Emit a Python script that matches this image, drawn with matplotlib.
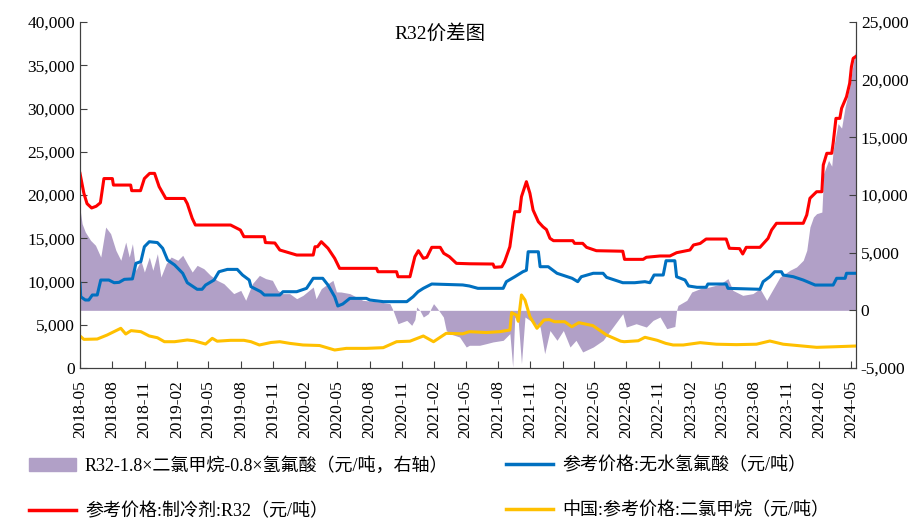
import matplotlib
matplotlib.use('Agg')
import matplotlib.pyplot as plt
import matplotlib.dates as mdates
from matplotlib.ticker import FuncFormatter, MultipleLocator
from matplotlib.patches import Patch
from matplotlib.lines import Line2D
import pandas as pd

# R32 reference price (yuan/t, left axis)
r32_dates = ['2018-05-01', '2018-05-12', '2018-05-21', '2018-06-03', '2018-06-16', '2018-06-28', '2018-07-08',
             '2018-08-01', '2018-08-04', '2018-09-22', '2018-09-25', '2018-10-20', '2018-10-31', '2018-11-15',
             '2018-11-29', '2018-12-12', '2018-12-31', '2019-02-22', '2019-03-02', '2019-03-16', '2019-03-25',
             '2019-07-03', '2019-07-31', '2019-08-10', '2019-10-07', '2019-10-10', '2019-11-06', '2019-11-20',
             '2020-01-07', '2020-02-23', '2020-02-28', '2020-03-06', '2020-03-17', '2020-04-05', '2020-04-24',
             '2020-05-08', '2020-08-21', '2020-08-25', '2020-10-17', '2020-10-21', '2020-11-24', '2020-12-08',
             '2020-12-18', '2021-01-01', '2021-01-11', '2021-01-25', '2021-02-18', '2021-02-28', '2021-03-16',
             '2021-04-05', '2021-05-12', '2021-07-18', '2021-07-22', '2021-08-12', '2021-08-20', '2021-09-04',
             '2021-09-13', '2021-09-18', '2021-10-02', '2021-10-07', '2021-10-21', '2021-10-31', '2021-11-09',
             '2021-11-24', '2021-12-07', '2021-12-17', '2021-12-27', '2022-01-06', '2022-03-02', '2022-03-07',
             '2022-03-30', '2022-04-10', '2022-05-08', '2022-07-22', '2022-07-27', '2022-09-18', '2022-09-27',
             '2022-11-05', '2022-12-03', '2022-12-22', '2023-01-29', '2023-02-08', '2023-02-27', '2023-03-16',
             '2023-05-12', '2023-05-21', '2023-06-19', '2023-06-28', '2023-07-08', '2023-08-16', '2023-09-08',
             '2023-09-18', '2023-10-02', '2023-12-17', '2023-12-27', '2024-01-05', '2024-01-24', '2024-02-08',
             '2024-02-12', '2024-02-22', '2024-03-07', '2024-03-11', '2024-03-19', '2024-03-30', '2024-04-04',
             '2024-04-18', '2024-04-27', '2024-05-02', '2024-05-07', '2024-05-14']
r32 = [22500, 20200, 19000, 18500, 18700, 19100, 21900,
       21900, 21150, 21150, 20500, 20500, 21900, 22500,
       22500, 20960, 19600, 19600, 19000, 17300, 16530,
       16530, 15950, 15180, 15180, 14500, 14450, 13640,
       13060, 13060, 14020, 14020, 14600, 13840, 12680,
       11520, 11520, 11130, 11130, 10550, 10550, 12870,
       13560, 12680, 12800, 13950, 13950, 13260, 12870,
       12100, 12050, 12020, 11640, 11700, 12290, 14020,
       16730, 18070, 18070, 19800, 21540, 20200, 18260,
       16910, 16330, 16000, 14990, 14720, 14720, 14410,
       14410, 13950, 13560, 13500, 12560, 12560, 12800,
       12950, 12950, 13330, 13640, 14220, 14400, 14910,
       14910, 13840, 13800, 13180, 13950, 13950, 14990,
       15950, 16730, 16730, 17690, 19620, 20380, 20380,
       23470, 24820, 24820, 25970, 28860, 28860, 30020,
       31360, 32910, 34830, 35800, 36000]

# anhydrous HF reference price (left axis)
hf_dates = ['2018-05-01', '2018-05-03', '2018-05-16', '2018-05-26', '2018-06-05', '2018-06-19', '2018-06-29',
            '2018-07-22', '2018-08-06', '2018-08-20', '2018-09-04', '2018-09-27', '2018-10-07', '2018-10-21',
            '2018-10-31', '2018-11-14', '2018-12-07', '2018-12-22', '2019-01-05', '2019-01-25', '2019-02-17',
            '2019-03-02', '2019-03-30', '2019-04-13', '2019-04-23', '2019-05-17', '2019-05-31', '2019-06-24',
            '2019-07-22', '2019-08-06', '2019-08-25', '2019-08-30', '2019-09-27', '2019-10-07', '2019-11-20',
            '2019-11-29', '2020-01-07', '2020-02-04', '2020-02-23', '2020-03-21', '2020-04-05', '2020-04-24',
            '2020-05-03', '2020-05-17', '2020-06-06', '2020-07-23', '2020-08-02', '2020-09-09', '2020-11-15',
            '2020-12-03', '2020-12-17', '2021-01-01', '2021-01-25', '2021-04-23', '2021-05-12', '2021-06-05',
            '2021-08-16', '2021-08-25', '2021-09-18', '2021-10-11', '2021-10-21', '2021-10-26', '2021-11-24',
            '2021-11-29', '2021-12-22', '2022-01-16', '2022-02-28', '2022-03-16', '2022-03-26', '2022-04-29',
            '2022-05-27', '2022-06-06', '2022-07-22', '2022-08-25', '2022-09-23', '2022-10-07', '2022-10-19',
            '2022-11-14', '2022-11-22', '2022-12-17', '2022-12-22', '2023-01-15', '2023-01-25', '2023-02-18',
            '2023-03-16', '2023-03-21', '2023-05-12', '2023-05-17', '2023-08-16', '2023-08-25', '2023-09-13',
            '2023-09-27', '2023-10-16', '2023-10-21', '2023-11-19', '2023-12-17', '2024-01-20', '2024-03-11',
            '2024-03-21', '2024-04-14', '2024-04-18', '2024-05-14']
hf = [9790, 8240, 7860, 7860, 8440, 8440, 10170,
      10170, 9860, 9900, 10250, 10300, 12100, 12300,
      14020, 14600, 14500, 13840, 12480, 11910, 10950,
      9860, 9100, 9100, 9590, 10170, 11130, 11400,
      11400, 10750, 10170, 9400, 8820, 8440, 8440,
      8820, 8820, 9210, 10370, 10370, 9590, 8240,
      7170, 7400, 8050, 8050, 7860, 7670, 7670,
      8240, 8820, 9210, 9710, 9600, 9480, 9210,
      9210, 9980, 10550, 11130, 11300, 13440, 13440,
      11710, 11710, 10950, 10370, 9980, 10550, 10950,
      10950, 10480, 9860, 9860, 9980, 9860, 10750,
      10750, 12400, 12400, 10550, 10170, 9480, 9330,
      9330, 9710, 9710, 9210, 9100, 9980, 10550,
      11130, 11130, 10750, 10550, 10170, 9590, 9590,
      10370, 10370, 10950, 10950]

# China dichloromethane reference price (left axis)
dcm_dates = ['2018-05-01', '2018-05-12', '2018-06-19', '2018-07-17', '2018-08-25', '2018-09-08', '2018-09-23',
             '2018-10-21', '2018-11-14', '2018-12-07', '2018-12-27', '2019-01-25', '2019-03-02', '2019-03-21',
             '2019-04-23', '2019-05-12', '2019-05-26', '2019-07-03', '2019-08-10', '2019-08-30', '2019-09-23',
             '2019-10-26', '2019-11-20', '2019-12-18', '2020-01-25', '2020-03-12', '2020-04-24', '2020-05-27',
             '2020-07-23', '2020-09-09', '2020-10-17', '2020-11-24', '2021-01-01', '2021-01-30', '2021-03-07',
             '2021-04-23', '2021-05-12', '2021-06-29', '2021-08-06', '2021-09-04', '2021-09-09', '2021-09-23',
             '2021-09-28', '2021-10-07', '2021-10-17', '2021-10-31', '2021-11-20', '2021-12-10', '2021-12-25',
             '2022-01-09', '2022-02-07', '2022-02-27', '2022-03-19', '2022-04-28', '2022-06-06', '2022-07-16',
             '2022-07-26', '2022-09-04', '2022-09-23', '2022-10-28', '2022-11-21', '2022-12-12', '2023-01-10',
             '2023-02-27', '2023-04-14', '2023-06-10', '2023-08-06', '2023-09-13', '2023-10-21', '2024-01-24',
             '2024-03-11', '2024-05-14']
dcm = [3700, 3310, 3350, 3810, 4590, 3930, 4320,
       4200, 3700, 3500, 3040, 3040, 3240, 3150,
       2770, 3430, 3100, 3200, 3200, 3040, 2660,
       2950, 3040, 2850, 2660, 2600, 2080, 2270,
       2270, 2350, 3040, 3100, 3700, 3040, 4010,
       3950, 4200, 4100, 4200, 4390, 6400, 6100,
       5400, 8440, 7860, 5930, 4590, 5550, 5600,
       5350, 5350, 4770, 5240, 4900, 3810, 3100,
       3040, 3150, 3550, 3200, 2850, 2660, 2660,
       2930, 2750, 2700, 2750, 3120, 2750, 2390,
       2450, 2540]

# R32 - 1.8 x DCM - 0.8 x HF spread (right axis)
spread_dates = ['2018-05-01', '2018-05-07', '2018-05-16', '2018-05-31', '2018-06-14', '2018-06-29', '2018-07-13',
                '2018-07-27', '2018-08-11', '2018-08-25', '2018-09-08', '2018-09-18', '2018-09-27', '2018-10-07',
                '2018-10-21', '2018-10-31', '2018-11-14', '2018-11-24', '2018-12-07', '2018-12-17', '2019-01-01',
                '2019-01-15', '2019-02-03', '2019-02-17', '2019-03-02', '2019-03-16', '2019-03-30', '2019-04-18',
                '2019-05-07', '2019-05-26', '2019-06-14', '2019-07-12', '2019-08-01', '2019-08-15', '2019-09-03',
                '2019-09-23', '2019-10-11', '2019-10-30', '2019-11-14', '2019-11-29', '2019-12-18', '2020-01-07',
                '2020-01-25', '2020-02-23', '2020-03-02', '2020-03-17', '2020-04-05', '2020-04-19', '2020-04-29',
                '2020-05-12', '2020-06-06', '2020-07-13', '2020-08-30', '2020-09-28', '2020-10-07', '2020-10-21',
                '2020-11-15', '2020-11-29', '2020-12-08', '2020-12-13', '2020-12-22', '2021-01-01', '2021-01-15',
                '2021-01-30', '2021-02-09', '2021-02-27', '2021-03-07', '2021-03-16', '2021-04-14', '2021-05-03',
                '2021-05-12', '2021-06-10', '2021-06-29', '2021-07-18', '2021-08-16', '2021-09-04', '2021-09-12',
                '2021-09-18', '2021-09-28', '2021-10-07', '2021-10-17', '2021-10-31', '2021-11-29', '2021-12-12',
                '2021-12-27', '2022-01-16', '2022-02-03', '2022-02-22', '2022-03-11', '2022-03-30', '2022-04-29',
                '2022-05-27', '2022-06-24', '2022-07-22', '2022-08-01', '2022-08-29', '2022-09-27', '2022-10-16',
                '2022-11-05', '2022-11-24', '2022-12-17', '2022-12-22', '2022-12-26', '2023-01-20', '2023-02-03',
                '2023-02-27', '2023-03-25', '2023-04-23', '2023-05-17', '2023-05-31', '2023-06-28', '2023-07-27',
                '2023-08-16', '2023-09-04', '2023-09-23', '2023-10-12', '2023-11-09', '2023-11-28', '2023-12-17',
                '2023-12-27', '2024-01-05', '2024-01-15', '2024-01-24', '2024-02-08', '2024-02-13', '2024-02-27',
                '2024-03-07', '2024-03-11', '2024-03-25', '2024-04-04', '2024-04-14', '2024-04-27', '2024-05-07',
                '2024-05-14']
spread = [8800, 7510, 6790, 6070, 5640, 4620, 7220,
          6650, 5200, 4340, 5920, 4620, 5780, 3470,
          4340, 3320, 4620, 3470, 4910, 2890, 4050,
          4620, 4340, 4770, 4050, 3320, 3900, 3610,
          3030, 2600, 2310, 1450, 1730, 870, 2310,
          3030, 2750, 2600, 1730, 1450, 1450, 1010,
          1300, 2020, 1000, 1880, 2310, 2600, 1600,
          1590, 1450, 870, 720, 580, 0, -1160,
          -870, -1300, -800, 290, 0, -580, -300,
          580, 200, -580, -1730, -2020, -2310, -3180,
          -3030, -3030, -2890, -2740, -2600, -2020, -4910,
          -580, -1000, -4620, -580, -870, -1450, -3760,
          -1750, -2600, -1750, -3180, -2600, -3610, -3180,
          -2600, -1450, -290, -1450, -1160, -1450, -870,
          -580, -1590, -1400, 0, 430, 870, 1590,
          1880, 2020, 2250, 2750, 1730, 1300, 1450,
          1880, 870, 1880, 2890, 3470, 3760, 4340,
          5200, 7220, 8090, 8380, 8520, 11850, 13000,
          12500, 13870, 16190, 15800, 17630, 19360, 21390,
          22540]

plt.rcParams['font.family'] = ['Liberation Serif', 'Noto Sans CJK SC']
plt.rcParams['axes.unicode_minus'] = False

fig = plt.figure(figsize=(9.22, 5.22), dpi=100)
ax = fig.add_axes([80 / 922, 1 - 368 / 522, 776 / 922, 346 / 522])
ax2 = ax.twinx()
ax.set_zorder(ax2.get_zorder() + 1)
ax.patch.set_visible(False)

ax2.fill_between(pd.to_datetime(spread_dates), spread, 0, color='#B1A0C7', lw=0)
ax.plot(pd.to_datetime(r32_dates), r32, color='#FF0000', lw=2.2)
ax.plot(pd.to_datetime(hf_dates), hf, color='#0070C0', lw=2.2)
ax.plot(pd.to_datetime(dcm_dates), dcm, color='#FFC000', lw=2.2)

ax.set_xlim(pd.Timestamp('2018-05-01'), pd.Timestamp('2024-05-15'))
ax.set_ylim(0, 40000)
ax2.set_ylim(-5000, 25000)
ax.yaxis.set_major_locator(MultipleLocator(5000))
ax2.yaxis.set_major_locator(MultipleLocator(5000))
fmt = FuncFormatter(lambda v, p: f'{v:,.0f}')
ax.yaxis.set_major_formatter(fmt)
ax2.yaxis.set_major_formatter(fmt)
ax.xaxis.set_major_locator(mdates.MonthLocator(bymonth=[2, 5, 8, 11]))
ax.xaxis.set_major_formatter(mdates.DateFormatter('%Y-%m'))

for a in (ax, ax2):
    a.spines['top'].set_visible(False)
    for s in a.spines.values():
        s.set_color('#404040')
    a.tick_params(direction='in', length=5, labelsize=12.5, color='#404040')
ax.tick_params(axis='x', rotation=90, labelsize=12.5, pad=9)

fig.text(440 / 922, 1 - 33 / 522, 'R32价差图', ha='center', va='center', fontsize=14)

h_area = Patch(color='#B1A0C7')
h_r32 = Line2D([], [], color='#FF0000', lw=2.5)
h_hf = Line2D([], [], color='#0070C0', lw=2.5)
h_dcm = Line2D([], [], color='#FFC000', lw=2.5)
fig.legend([h_area, h_r32], ['R32-1.8×二氯甲烷-0.8×氢氟酸（元/吨，右轴）', '参考价格:制冷剂:R32（元/吨）'],
           loc='upper left', bbox_to_anchor=(20 / 922, 1 - 448 / 522), frameon=False, fontsize=13,
           handlelength=2.6, labelspacing=1.55, borderpad=0, handletextpad=0.5)
fig.legend([h_hf, h_dcm], ['参考价格:无水氢氟酸（元/吨）', '中国:参考价格:二氯甲烷（元/吨）'],
           loc='upper left', bbox_to_anchor=(497 / 922, 1 - 448 / 522), frameon=False, fontsize=13,
           handlelength=2.6, labelspacing=1.55, borderpad=0, handletextpad=0.5)

fig.savefig('out.png', dpi=100)
